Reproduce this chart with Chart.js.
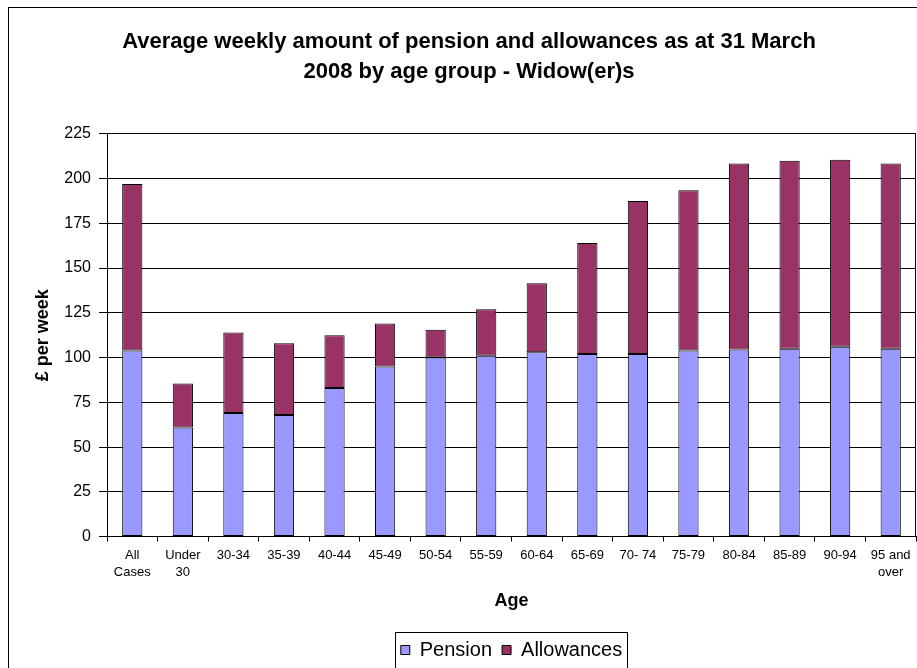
<!DOCTYPE html>
<html>
<head>
<meta charset="utf-8">
<script src="https://cdn.jsdelivr.net/npm/chart.js@4.4.1/dist/chart.umd.min.js"></script>
<style>
  html, body { margin: 0; padding: 0; background: #fff; overflow: hidden; }
  #frame {
    position: absolute; left: 8px; top: 7px;
    width: 922px; height: 670px;
    border-left: 1px solid #000; border-top: 1px solid #000;
  }
  canvas { display: block; }
</style>
</head>
<body>
<div id="frame"><canvas id="chart" width="922" height="670"></canvas></div>
<script>
const categories = [["All", "Cases"], ["Under", "30"], "30-34", "35-39", "40-44", "45-49", "50-54",
  "55-59", "60-64", "65-69", "70- 74", "75-79", "80-84", "85-89", "90-94", ["95 and", "over"]];
const pension = [104, 61, 69, 68, 83, 95, 100, 101, 103, 102, 102, 104, 104.5, 105, 106, 105];
const allowances = [93, 24.5, 45, 40, 29.5, 24, 15.5, 26, 38.5, 62, 85.5, 89.5, 104, 105, 104.5, 103.5];
const yTicks = [0, 25, 50, 75, 100, 125, 150, 175, 200, 225];

const titleLines = ["Average weekly amount of pension and allowances as at 31 March",
  "2008 by age group - Widow(er)s"];

const FONT = "'Liberation Sans', Arial, sans-serif";
Chart.defaults.font.family = FONT;
Chart.defaults.color = "#000";

// right edge of the plot frame and the box round the legend
const frames = {
  id: "frames",
  afterDraw(chart) {
    const ctx = chart.ctx;
    const a = chart.chartArea;
    ctx.save();
    ctx.strokeStyle = "#000";
    ctx.lineWidth = 1;
    ctx.beginPath();
    const rx = Math.round(a.right) - 0.5;
    ctx.moveTo(rx, a.top);
    ctx.lineTo(rx, a.bottom);
    ctx.stroke();

    const boxes = chart.legend.legendHitBoxes;
    if (boxes && boxes.length) {
      const l = Math.min(...boxes.map(b => b.left)) - 6;
      const r = Math.max(...boxes.map(b => b.left + b.width)) + 5;
      const t = boxes[0].top - 8;
      const h = boxes[0].height + 16;
      ctx.strokeRect(Math.round(l) + 0.5, Math.round(t) + 0.5, Math.round(r - l), Math.round(h));
    }
    ctx.restore();
  }
};

new Chart(document.getElementById("chart"), {
  type: "bar",
  data: {
    labels: categories,
    datasets: [{
      label: "Pension",
      data: pension,
      backgroundColor: "#9999FF",
      borderColor: "#000",
      borderWidth: 1,
      borderSkipped: false,
      barPercentage: 0.4,
      categoryPercentage: 1
    }, {
      label: "Allowances",
      data: allowances,
      backgroundColor: "#993366",
      borderColor: "#000",
      borderWidth: 1,
      borderSkipped: false,
      barPercentage: 0.4,
      categoryPercentage: 1
    }]
  },
  options: {
    responsive: false,
    animation: false,
    devicePixelRatio: 1,
    layout: { padding: { left: 13, right: 15, top: 0, bottom: 8 } },
    plugins: {
      title: {
        display: true,
        text: titleLines,
        color: "#000",
        font: { size: 22, weight: "bold", lineHeight: 1.36 },
        padding: { top: 19, bottom: 47 }
      },
      legend: {
        position: "bottom",
        fullSize: false,
        labels: {
          boxWidth: 9,
          boxHeight: 9,
          padding: 10,
          color: "#000",
          font: { size: 20 }
        }
      },
      tooltip: { enabled: false }
    },
    scales: {
      x: {
        stacked: true,
        grid: { drawOnChartArea: false, drawTicks: true, tickLength: 5, color: "#000" },
        border: { color: "#000" },
        ticks: { font: { size: 13, lineHeight: 1.3 }, padding: 5, maxRotation: 0, autoSkip: false },
        title: {
          display: true,
          text: "Age",
          font: { size: 18, weight: "bold" },
          padding: { top: 5, bottom: 18 }
        }
      },
      y: {
        stacked: true,
        min: 0,
        max: 225,
        afterBuildTicks(scale) {
          scale.ticks = yTicks.map(v => ({ value: v }));
        },
        afterFit(scale) {
          scale.width = 85;
        },
        grid: { color: "#000", tickLength: 8 },
        border: { color: "#000" },
        ticks: { font: { size: 16 }, padding: 8 },
        title: {
          display: true,
          text: "£ per week",
          font: { size: 18, weight: "bold" },
          padding: { top: 10, bottom: 0 }
        }
      }
    }
  },
  plugins: [frames]
});
</script>
</body>
</html>
